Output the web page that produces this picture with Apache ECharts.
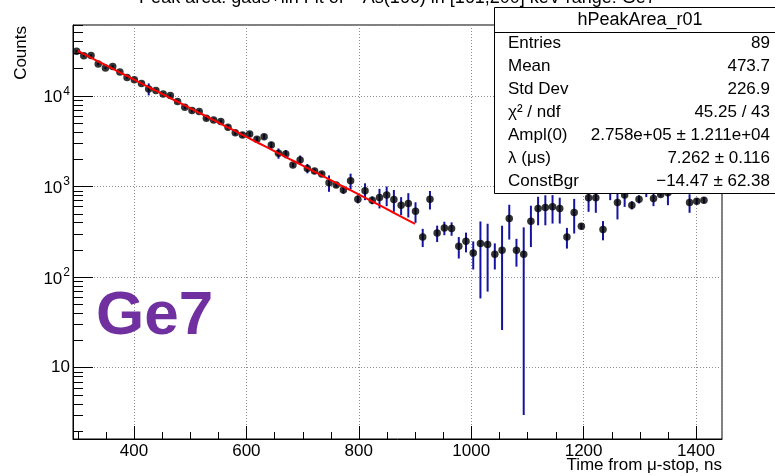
<!DOCTYPE html>
<html>
<head>
<meta charset="utf-8">
<script src="https://cdn.jsdelivr.net/npm/echarts@6/dist/echarts.min.js"></script>
<style>
  html, body { margin: 0; padding: 0; background: #fff; }
  #chart { width: 775px; height: 476px; }
</style>
</head>
<body>
<div id="chart"></div>
<script>
// Histogram bin centres (ns) of hPeakArea_r01
const binCenters = [
  297.9, 310.7, 323.6, 336.4, 349.2, 362.1, 374.9, 387.7, 400.6, 413.4,
  426.2, 439.0, 451.9, 464.7, 477.5, 490.4, 503.2, 516.0, 528.8, 541.7,
  554.5, 567.3, 580.2, 593.0, 605.8, 618.7, 631.5, 644.3, 657.1, 670.0,
  682.8, 695.6, 708.5, 721.3, 734.1, 747.0, 759.8, 772.6, 785.4, 798.3,
  811.1, 823.9, 836.8, 849.6, 862.4, 875.3, 888.1, 900.9, 913.7, 926.6,
  939.4, 952.2, 965.1, 977.9, 990.7, 1003.6, 1016.4, 1029.2, 1042.0, 1054.9,
  1067.7, 1080.5, 1093.4, 1106.2, 1119.0, 1131.9, 1144.7, 1157.5, 1170.3, 1183.2,
  1196.0, 1208.8, 1221.7, 1234.5, 1247.3, 1260.2, 1273.0, 1285.8, 1298.6, 1311.5,
  1324.3, 1337.1, 1350.0, 1362.8, 1375.6, 1388.5, 1401.3, 1414.1
];
// Peak area per bin
const counts = [
  30950, 27700, 27900, 22400, 20300, 21100, 18300, 15950, 15000, 13700,
  11900, 11450, 10450, 10080, 8650, 7490, 6870, 6700, 5660, 5420,
  5190, 4500, 3920, 3700, 3780, 3310, 3540, 2870, 2320, 2280,
  1720, 1955, 1580, 1476, 1367, 1096, 1033, 910, 1154, 723,
  893, 705, 755, 801, 718, 621, 648, 532, 277, 723,
  306, 348, 343, 218, 248, 184, 234, 228, 178, 197,
  443, 197, 178, 413, 570, 585, 595, 570, 277, 515,
  363, 748, 748, 334, 950, 665, 802, 621, 723, 950,
  736, 815, 850, 1100, 1150, 665, 687, 705
];
// Uncertainty of each bin
const countErrors = [
  800, 750, 750, 650, 600, 620, 560, 520, 500, 480,
  1800, 450, 420, 410, 380, 350, 330, 320, 300, 290,
  280, 260, 250, 240, 240, 230, 230, 230, 300, 240,
  90, 235, 187, 100, 80, 225, 60, 80, 227, 74,
  188, 70, 184, 196, 194, 140, 194, 136, 63, 167,
  63, 59, 58, 58, 61, 63, 176, 159, 57, 171,
  184, 67, 175, 199, 198, 213, 206, 181, 71, 213,
  29, 224, 237, 80, 245, 233, 208, 65, 74, 188,
  131, 47, 230, 150, 150, 154, 55, 56
];

// Fit result: Ampl(0) * exp(-lambda * t) + ConstBgr, t in microseconds
const fitAmpl = 2.758e5;
const fitLambda = 7.262;
const fitConst = -14.47;
const fitRange = [300, 900];

// Statistics box
const statsTitle = 'hPeakArea_r01';
const statNames = ['Entries', 'Mean', 'Std Dev', 'χ² / ndf', 'Ampl(0)', 'λ (μs)', 'ConstBgr'];
const statValues = ['89', '473.7', '226.9', '45.25 / 43', '2.758e+05 ± 1.211e+04', '7.262 ± 0.116', '−14.47 ± 62.38'];

const titleText = 'Peak area: gaus+lin Fit of ⁷⁵As(166) in [161,200] keV range: Ge7';
const xTitle = 'Time from μ-stop, ns';
const yTitle = 'Counts';
const detectorLabel = 'Ge7';

// Axis ranges and minor tick positions
const X_MIN = 291.5, X_MAX = 1446.2;
const Y_MIN = 1.63, Y_MAX = 60400;
const xMinorTicks = [300, 350, 450, 500, 550, 650, 700, 750, 850, 900, 950, 1050, 1100, 1150, 1250, 1300, 1350];
const yMinorTicks = [
  2, 3, 4, 5, 6, 7, 8, 9,
  20, 30, 40, 50, 60, 70, 80, 90,
  200, 300, 400, 500, 600, 700, 800, 900,
  2000, 3000, 4000, 5000, 6000, 7000, 8000, 9000,
  20000, 30000, 40000, 50000, 60000
];

const FONT = '"Liberation Sans", Arial, Helvetica, sans-serif';

const fitCurve = [];
for (let k = 0; k <= 100; k++) {
  const t = fitRange[0] + (fitRange[1] - fitRange[0]) * k / 100;
  fitCurve.push([t, fitAmpl * Math.exp(-fitLambda * t / 1000) + fitConst]);
}

const chart = echarts.init(document.getElementById('chart'), null, { renderer: 'canvas' });

const statsElements = [
  {
    type: 'rect', z: 100,
    shape: { x: 494.5, y: 7.5, width: 300, height: 186 },
    style: { fill: '#fff', stroke: '#000', lineWidth: 1 }
  },
  {
    type: 'line', z: 101,
    shape: { x1: 494.5, y1: 32.5, x2: 775, y2: 32.5 },
    style: { stroke: '#000', lineWidth: 1 }
  },
  {
    type: 'text', z: 101, x: 640, y: 20,
    style: { text: statsTitle, font: '18px ' + FONT, fill: '#000', textAlign: 'center', textVerticalAlign: 'middle' }
  }
];
statNames.forEach((name, k) => {
  const y = 43.3 + 23.06 * k;
  statsElements.push({
    type: 'text', z: 101, x: 508, y: y,
    style: { text: name, font: '17px ' + FONT, fill: '#000', textAlign: 'left', textVerticalAlign: 'middle' }
  });
  statsElements.push({
    type: 'text', z: 101, x: 770, y: y,
    style: { text: statValues[k], font: '17px ' + FONT, fill: '#000', textAlign: 'right', textVerticalAlign: 'middle' }
  });
});

const option = {
  animation: false,
  backgroundColor: '#fff',
  grid: {
    left: 73, right: 53, top: 25, bottom: 37,
    containLabel: false,
    show: true, borderColor: '#000', borderWidth: 1, backgroundColor: 'transparent'
  },
  xAxis: {
    type: 'value',
    min: X_MIN, max: X_MAX,
    axisLine: { show: true, onZero: false, lineStyle: { color: '#000', width: 1 } },
    axisTick: { show: true, inside: true, length: 13, lineStyle: { color: '#000' } },
    axisLabel: {
      color: '#000', fontSize: 17, fontFamily: FONT, margin: 4,
      showMinLabel: false, showMaxLabel: false,
      formatter: v => (Math.abs(v / 200 - Math.round(v / 200)) < 1e-6 ? String(v) : '')
    },
    splitLine: { show: true, lineStyle: { color: '#8c8c8c', type: [1, 2], width: 1 } }
  },
  yAxis: {
    type: 'log',
    logBase: 10,
    min: Y_MIN, max: Y_MAX,
    axisLine: { show: true, onZero: false, lineStyle: { color: '#000', width: 1 } },
    axisTick: { show: true, inside: true, length: 20, lineStyle: { color: '#000' } },
    axisLabel: {
      color: '#000', fontFamily: FONT, margin: 3,
      showMinLabel: false, showMaxLabel: false,
      formatter: v => {
        const e = Math.log10(v);
        const r = Math.round(e);
        if (Math.abs(e - r) > 1e-6) return '';
        return r === 1 ? '{b|10}' : '{b|10}{s|' + r + '}';
      },
      rich: {
        b: { fontSize: 17, fontFamily: FONT, color: '#000', verticalAlign: 'bottom' },
        s: { fontSize: 12, fontFamily: FONT, color: '#000', verticalAlign: 'bottom', padding: [0, 0, 9, 1] }
      }
    },
    splitLine: { show: true, lineStyle: { color: '#8c8c8c', type: [1, 2], width: 1 } }
  },
  series: [
    {
      // minor ticks along the time axis
      type: 'custom', name: 'xMinor', silent: true, z: 2,
      data: xMinorTicks.map(v => [v, Y_MIN]),
      renderItem: (params, api) => {
        const cs = params.coordSys;
        const px = Math.round(api.coord([api.value(0), Y_MIN])[0]) + 0.5;
        const yb = cs.y + cs.height;
        return { type: 'line', shape: { x1: px, y1: yb, x2: px, y2: yb - 7 }, style: { stroke: '#000', lineWidth: 1 } };
      }
    },
    {
      // minor ticks along the counts axis
      type: 'custom', name: 'yMinor', silent: true, z: 2,
      data: yMinorTicks.map(v => [X_MIN, v]),
      renderItem: (params, api) => {
        const cs = params.coordSys;
        const py = Math.round(api.coord([X_MIN, api.value(1)])[1]) + 0.5;
        return { type: 'line', shape: { x1: cs.x, y1: py, x2: cs.x + 10, y2: py }, style: { stroke: '#000', lineWidth: 1 } };
      }
    },
    {
      // vertical error bars
      type: 'custom', name: 'errors', silent: true, z: 3, clip: true,
      data: binCenters.map((x, i) => [x, counts[i], countErrors[i]]),
      encode: { x: 0, y: 1 },
      renderItem: (params, api) => {
        const x = api.value(0), v = api.value(1), e = api.value(2);
        const lo = Math.max(v - e, Y_MIN * 0.5);
        const p1 = api.coord([x, lo]);
        const p2 = api.coord([x, v + e]);
        return {
          type: 'line',
          shape: { x1: p1[0], y1: p1[1], x2: p2[0], y2: p2[1] },
          style: { stroke: '#1414a0', lineWidth: 2 }
        };
      }
    },
    {
      type: 'scatter', name: 'counts', z: 4,
      data: binCenters.map((x, i) => [x, counts[i]]),
      symbol: 'circle', symbolSize: 7.5,
      itemStyle: { color: '#000' },
      silent: true
    },
    {
      type: 'line', name: 'fit', z: 5,
      data: fitCurve,
      showSymbol: false, smooth: false,
      lineStyle: { color: '#ff0000', width: 2 },
      silent: true
    }
  ],
  graphic: [
    {
      type: 'text', x: 397.5, y: -1.7, z: 50,
      style: { text: titleText, font: '18px ' + FONT, fill: '#000', textAlign: 'center', textVerticalAlign: 'middle' }
    },
    {
      type: 'text', x: 21, y: 26, rotation: Math.PI / 2, z: 50,
      style: { text: yTitle, font: '17px ' + FONT, fill: '#000', textAlign: 'right', textVerticalAlign: 'middle' }
    },
    {
      type: 'text', x: 722, y: 465.5, z: 50,
      style: { text: xTitle, font: '17px ' + FONT, fill: '#000', textAlign: 'right', textVerticalAlign: 'middle' }
    },
    {
      type: 'text', x: 96, y: 316.5, z: 50,
      style: { text: detectorLabel, font: 'bold 62px ' + FONT, fill: '#7030a0', textAlign: 'left', textVerticalAlign: 'middle' }
    }
  ].concat(statsElements)
};

chart.setOption(option);
</script>
</body>
</html>
